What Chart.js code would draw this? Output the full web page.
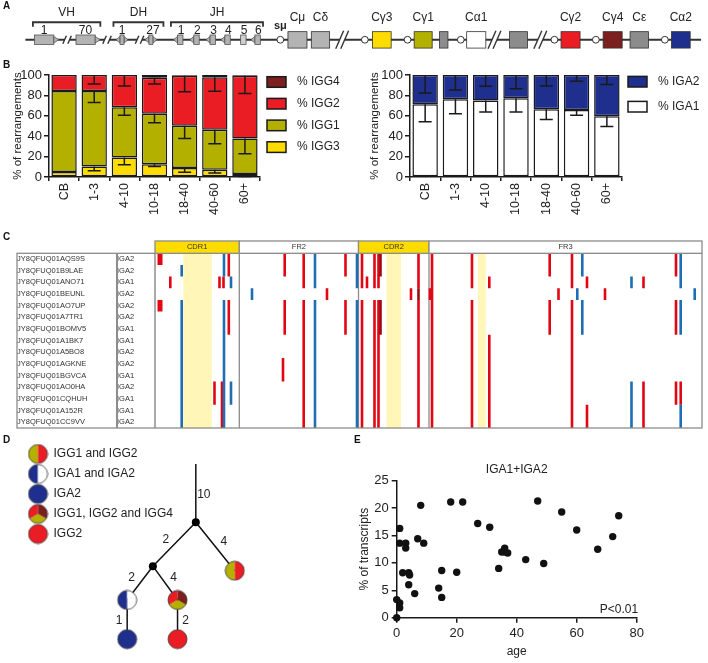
<!DOCTYPE html>
<html>
<head>
<meta charset="utf-8">
<script src="https://cdn.jsdelivr.net/npm/chart.js@4.4.1/dist/chart.umd.min.js"></script>
<style>
  body { margin: 0; background: #fff; }
  #fig { position: relative; width: 708px; height: 663px; overflow: hidden; font-family: Arial, 'Liberation Sans', sans-serif; }
  #fig canvas { position: absolute; }
  .tag { position: absolute; font-weight: bold; font-size: 10px; line-height: 10px; color: #111; }
</style>
</head>
<body>
<div id="fig">
  <canvas id="chartA" width="708" height="60" style="left:0;top:0"></canvas>
  <canvas id="chartB1" width="355" height="165" style="left:0;top:60px"></canvas>
  <canvas id="chartB2" width="353" height="165" style="left:355px;top:60px"></canvas>
  <canvas id="chartC" width="708" height="210" style="left:0;top:225px"></canvas>
  <canvas id="chartD" width="290" height="223" style="left:10px;top:440px"></canvas>
  <canvas id="chartE" width="408" height="233" style="left:300px;top:430px"></canvas>
  <div class="tag" style="left:3px;top:1px">A</div>
  <div class="tag" style="left:3px;top:60px">B</div>
  <div class="tag" style="left:3px;top:232px">C</div>
  <div class="tag" style="left:3px;top:435px">D</div>
  <div class="tag" style="left:354px;top:435px">E</div>
</div>
<script>
const FONT = "Arial, 'Liberation Sans', sans-serif";
Chart.defaults.font.family = FONT;
Chart.defaults.color = '#222';
Chart.defaults.animation = false;
Chart.defaults.responsive = false;
Chart.defaults.devicePixelRatio = 1;
Chart.defaults.plugins.legend.display = false;
Chart.defaults.plugins.tooltip.enabled = false;

const OLIVE = '#b3b000', RED = '#ea1c24', MAROON = '#7b1f1f', YELLOW = '#ffdc00', NAVY = '#1f2f8e';

// ---------- A: IGH locus ----------
const locusFrom = 20.7, locusTo = 706, locusY = 41.7;
const vGenes = [30, 72];
const vLabels = ['1', '70'];
const dGenes = [116.7, 146];
const dLabels = ['1', '27'];
const jGenes = [175, 191.5, 208, 223, 239, 253.5];
const jLabels = ['1', '2', '3', '4', '5', '6'];
const switchRegions = [279.3, 365, 408.3, 462.3, 557.3, 599.3, 669.3];
const constNames = ['Cμ', 'Cδ', 'Cγ3', 'Cγ1', '', 'Cα1', '', 'Cγ2', 'Cγ4', 'Cε', 'Cα2'];
const constStart = [287, 310.7, 372.7, 415, 440.7, 468.3, 511.7, 564, 606.7, 634, 676];
const constWidth = [19.3, 18.6, 19, 18.3, 8.6, 19.4, 18.3, 19.3, 19.3, 18.7, 19];
const constColor = ['#b3b3b3', '#b3b3b3', YELLOW, OLIVE, '#8c8c8c', '#ffffff', '#8c8c8c', RED, MAROON, '#8c8c8c', NAVY];
const locusBreaks = [63, 103.5, 136.5, 342, 496.5, 543];
const breakSize = [8, 8, 8, 18, 18, 18];
const groupNames = ['VH', 'DH', 'JH'];
const groupStart = [28.3, 110, 168.3];
const groupEnd = [96.7, 160.7, 261.7];

// ---------- B: isotype usage per age group ----------
const ageGroups = ['CB', '1-3', '4-10', '10-18', '18-40', '40-60', '60+'];
const igg3 = [5, 10.4, 19.2, 12.4, 8.8, 7.2, 2.9];
const igg1 = [79.4, 74, 49.2, 49.5, 41.4, 39.1, 34.9];
const igg2 = [15.6, 15.6, 31.6, 35.5, 49.1, 51.4, 61.5];
const igg4 = [0, 0, 0, 2.6, 0.7, 2.3, 0.7];
const igg3Sd = [0, 4.2, 7.2, 2, 4.2, 3.3, 2.5];
const igg1Sd = [0, 11.4, 7.8, 8.8, 12.4, 13.7, 15];
const igg2Sd = [0, 8.8, 10.7, 6.2, 15.6, 13.7, 17.5];
const igg4Sd = [0, 0, 0, 1.5, 0, 1, 0];
const iga1 = [71.3, 76.2, 74.9, 77.2, 66.4, 65.8, 59.6];
const iga2 = [28.7, 23.8, 25.1, 22.8, 33.6, 34.2, 40.4];
const iga1Sd = [17.2, 14.3, 11.1, 13.4, 10, 5.2, 10.1];
const iga2Sd = [17.6, 14.7, 11.1, 13.4, 10.7, 6.2, 9.4];

// ---------- C: mutations in IGA clone members ----------
const cloneIds = ['JY8QFUQ01AQS9S', 'JY8QFUQ01B9LAE', 'JY8QFUQ01ANO71', 'JY8QFUQ01BEUNL', 'JY8QFUQ01AO7UP',
  'JY8QFUQ01A7TR1', 'JY8QFUQ01BOMV5', 'JY8QFUQ01A1BK7', 'JY8QFUQ01A5BO8', 'JY8QFUQ01AGKNE',
  'JY8QFUQ01BGVCA', 'JY8QFUQ01AO0HA', 'JY8QFUQ01CQHUH', 'JY8QFUQ01A152R', 'JY8QFUQ01CC9VV'];
const cloneIsotypes = ['IGA2', 'IGA2', 'IGA1', 'IGA2', 'IGA2', 'IGA2', 'IGA1', 'IGA1', 'IGA2', 'IGA2',
  'IGA1', 'IGA2', 'IGA1', 'IGA1', 'IGA2'];
const regionNames = ['CDR1', 'FR2', 'CDR2', 'FR3'];
const regionStart = [0, 84.3, 203.5, 274];
const regionEnd = [84.3, 203.5, 274, 547];
const regionFill = [YELLOW, '#ffffff', YELLOW, '#ffffff'];
const hotspotStart = [28.3, 231.5, 323];
const hotspotEnd = [56.7, 246, 330.7];
// [position, kind, rows]   R red, B blue, D dark red, W broad red
const mutations = [
  [5, 'W', '0,4'], [15.3, 'R', '2'], [26.7, 'B', '1,4-14'], [59.5, 'R', '11-12'], [64.5, 'R', '2'],
  [67, 'R', '11-14'], [69, 'B', '0-1,4-14'], [68.5, 'R', '2'], [73.8, 'R', '0-1,4-6'], [76, 'B', '2,11-12'],
  [97, 'B', '3'], [128, 'R', '9-10'], [129.7, 'R', '0-1,4-6'], [148.7, 'R', '0-2,4-14'], [160, 'B', '0-2,4-14'],
  [172, 'R', '3'], [190.5, 'R', '0-1,4-6'], [202, 'B', '0-2,4-14'], [207, 'R', '0-2,4-14'], [212, 'R', '2'],
  [219.5, 'R', '0-2,4-14'], [223.5, 'R', '0-2,4-14'], [225.5, 'D', '0-1,4-6'], [256, 'R', '3'],
  [263.5, 'R', '0-2,4-14'], [263.5, 'D', '3'], [277, 'R', '0-14'], [275, 'R', '3'], [317, 'R', '0-2,4-14'],
  [334.3, 'R', '2,7-14'], [394.7, 'R', '0-1,4-6'], [403.5, 'R', '3'], [417, 'R', '0-2,4-14'], [422.3, 'B', '3'],
  [427.3, 'B', '0-1,4-6'], [432, 'R', '2,13-14'], [450, 'R', '3'], [476.5, 'B', '2,11-14'],
  [488.5, 'R', '2,11-14'], [521, 'R', '0-1,4-6,11-12'], [525.7, 'B', '0-2,4-6,13-14'], [525.7, 'R', '11-12'],
  [539.7, 'B', '3']
];

// ---------- D: clone lineage tree ----------
const cloneTypes = ['IGG1 and IGG2', 'IGA1 and IGA2', 'IGA2', 'IGG1, IGG2 and IGG4', 'IGG2'];
const nodeIds = ['top', 'n1', 'n2', 's1', 's2', 's3', 's4', 's5'];
const nodeX = [189, 189, 142.7, 231, 115, 169.3, 115, 169.3];
const nodeY = [15, 79.3, 127.7, 132.7, 165, 165, 208.3, 208.3];
const nodeType = [-2, -1, -1, 0, 1, 3, 2, 4];   // -1 branch point, -2 root stem
const branches = [['top', 'n1', '10', 1], ['n1', 'n2', '2', -1], ['n1', 's1', '4', 1], ['n2', 's2', '2', -1],
  ['n2', 's3', '4', 1], ['s2', 's4', '1', -1], ['s3', 's5', '2', 1]];

// ---------- E: IGA transcripts vs age ----------
const ageYears = [0, 0, 1, 1, 1, 1, 3, 3, 2, 4, 4.3, 4, 6, 7, 8, 9, 14, 15, 15, 18, 20, 22, 27, 31, 34, 35, 36, 36, 37, 43, 47, 49, 55, 60, 67, 72, 74];
const igaPct = [0, 3.3, 2.7, 1.8, 16.3, 13.6, 13.6, 12.7, 8.2, 8.2, 7.8, 6.0, 4.4, 14.4, 20.5, 13.6, 5.4, 8.6, 3.7, 21.1, 8.3, 21.1, 17.2, 16.5, 9.0, 12.0, 12.7, 12.0, 11.8, 10.6, 21.3, 9.9, 19.3, 16.0, 12.5, 14.8, 18.6];

// ================= panel A =================
const locusPlugin = {
  id: 'locus',
  beforeDatasetsDraw(chart) {
    const { ctx, scales: { x, y } } = chart;
    const px = v => x.getPixelForValue(v), py = v => y.getPixelForValue(v);
    const yc = py(locusY);
    ctx.save();
    ctx.strokeStyle = '#333';
    ctx.lineWidth = 2;
    ctx.beginPath(); ctx.moveTo(px(locusFrom), yc); ctx.lineTo(px(locusTo), yc); ctx.stroke();

    locusBreaks.forEach((b, i) => {
      const s = breakSize[i], w = s * 0.22;
      ctx.fillStyle = '#fff';
      ctx.fillRect(px(b) - 2.5, yc - 2, 5, 4);
      ctx.lineWidth = 1.4;
      [-2.5, 2.5].forEach(d => {
        ctx.beginPath(); ctx.moveTo(px(b) + d - w, yc + s / 2); ctx.lineTo(px(b) + d + w, yc - s / 2); ctx.stroke();
      });
    });

    const rect = (x0, x1, y0, y1, fill) => {
      ctx.fillStyle = fill;
      ctx.fillRect(px(x0), py(y0), px(x1) - px(x0), py(y1) - py(y0));
      ctx.strokeRect(px(x0), py(y0), px(x1) - px(x0), py(y1) - py(y0));
    };
    const rss = (base, apex) => {
      ctx.beginPath(); ctx.moveTo(px(base), yc - 3.3); ctx.lineTo(px(apex), yc); ctx.lineTo(px(base), yc + 3.3);
      ctx.closePath(); ctx.fillStyle = '#b3b3b3'; ctx.fill(); ctx.stroke();
    };
    ctx.strokeStyle = '#555';
    ctx.lineWidth = 0.8;
    vGenes.forEach(v => { rect(v, v + 19.5, 36, 47.3, '#b3b3b3'); rss(v + 19.5, v + 24.5); });
    dGenes.forEach(d => { rss(d, d - 4); rss(d + 4, d + 8); rect(d, d + 4, 36, 47.3, '#b3b3b3'); });
    jGenes.forEach((j, i) => {
      if (i !== 4) rss(j, j - 4);
      rect(j, j + 5.5, 36, 47.3, i === 4 ? '#cfcfcf' : '#b3b3b3');
    });
    ctx.strokeStyle = '#333';
    constStart.forEach((c, i) => rect(c, c + constWidth[i], 32, 51.7, constColor[i]));
    ctx.restore();
  },
  afterDraw(chart) {
    const { ctx, scales: { x, y } } = chart;
    const px = v => x.getPixelForValue(v), py = v => y.getPixelForValue(v);
    ctx.save();
    ctx.fillStyle = '#222';
    ctx.textAlign = 'center';
    ctx.textBaseline = 'middle';
    ctx.font = '12px ' + FONT;
    ctx.strokeStyle = '#333';
    ctx.lineWidth = 1.8;
    groupNames.forEach((g, i) => {
      ctx.beginPath();
      ctx.moveTo(px(groupStart[i]), py(26)); ctx.lineTo(px(groupStart[i]), py(20.7));
      ctx.lineTo(px(groupEnd[i]), py(20.7)); ctx.lineTo(px(groupEnd[i]), py(26));
      ctx.stroke();
      ctx.fillText(g, px((groupStart[i] + groupEnd[i]) / 2), py(9.5));
    });
    vGenes.forEach((v, i) => ctx.fillText(vLabels[i], px(v + 9.7), py(30.5)));
    dGenes.forEach((d, i) => ctx.fillText(dLabels[i], px(d + 2 + (i ? 2 : 0)), py(30.5)));
    jGenes.forEach((j, i) => ctx.fillText(jLabels[i], px(j + 3.5), py(30.5)));
    constStart.forEach((c, i) => { if (constNames[i]) ctx.fillText(constNames[i], px(c + constWidth[i] / 2), py(15)); });
    ctx.font = 'bold 11px ' + FONT;
    ctx.fillText('sμ', px(switchRegions[0]), py(25.5));
    ctx.restore();
  }
};

new Chart(document.getElementById('chartA'), {
  type: 'scatter',
  data: {
    datasets: [{
      data: switchRegions.map(s => ({ x: s, y: locusY })),
      pointRadius: 3.4, pointBackgroundColor: '#fff', pointBorderColor: '#333', pointBorderWidth: 1
    }]
  },
  options: {
    scales: {
      x: { display: false, min: 0, max: 708 },
      y: { display: false, min: 0, max: 60, reverse: true }
    }
  },
  plugins: [locusPlugin]
});

// ================= panel B =================
const errorBars = {
  id: 'errorBars',
  afterDatasetsDraw(chart) {
    const { ctx, scales: { y } } = chart;
    const totals = chart.data.labels.map(() => 0);
    ctx.save();
    ctx.strokeStyle = '#1a1a1a';
    ctx.lineWidth = 1.5;
    chart.data.datasets.forEach((ds, i) => {
      const meta = chart.getDatasetMeta(i);
      ds.data.forEach((v, j) => {
        totals[j] += v;
        const sd = ds.errors[j];
        if (!sd) return;
        const xc = meta.data[j].x, y0 = y.getPixelForValue(totals[j]), y1 = y.getPixelForValue(totals[j] - sd);
        ctx.beginPath();
        ctx.moveTo(xc, y0); ctx.lineTo(xc, y1);
        ctx.moveTo(xc - 6.5, y1); ctx.lineTo(xc + 6.5, y1);
        ctx.stroke();
      });
    });
    ctx.restore();
  }
};

const sideLegend = {
  id: 'sideLegend',
  afterDraw(chart, args, opts) {
    const { ctx, chartArea } = chart;
    const x = chartArea.right + opts.gap;
    ctx.save();
    ctx.font = '12px ' + FONT;
    ctx.textBaseline = 'middle';
    chart.data.datasets.slice().reverse().forEach((ds, i) => {
      const cy = opts.top + i * opts.step;
      ctx.fillStyle = ds.backgroundColor;
      ctx.fillRect(x, cy - 5.3, 19, 10.6);
      ctx.strokeStyle = '#1a1a1a';
      ctx.lineWidth = 1.5;
      ctx.strokeRect(x, cy - 5.3, 19, 10.6);
      ctx.fillStyle = '#222';
      ctx.fillText(ds.label, x + 30, cy);
    });
    ctx.restore();
  }
};

function rearrangementChart(id, datasets, padding, axisWidth, legendOpts) {
  const axisLine = { color: '#1a1a1a', width: 1.5 };
  const tickMarks = { drawOnChartArea: false, color: '#1a1a1a', lineWidth: 1.5 };
  return new Chart(document.getElementById(id), {
    type: 'bar',
    data: { labels: ageGroups, datasets },
    options: {
      layout: { padding },
      datasets: { bar: { categoryPercentage: 1, barPercentage: 0.84, borderColor: '#1a1a1a', borderWidth: 1.5, borderSkipped: false } },
      scales: {
        x: {
          stacked: true,
          grid: { ...tickMarks, tickLength: 4 },
          border: axisLine,
          ticks: { minRotation: 90, maxRotation: 90, font: { size: 12.5 }, padding: 2 },
          afterFit: s => { s.height = 48; }
        },
        y: {
          stacked: true, min: 0, max: 100,
          ticks: { stepSize: 20, font: { size: 13 }, padding: 2 },
          grid: { ...tickMarks, tickLength: 5 },
          border: axisLine,
          title: { display: true, text: '% of rearrangements', font: { size: 11.5 }, padding: 4 },
          afterFit: s => { s.width = axisWidth; }
        }
      },
      plugins: { sideLegend: legendOpts }
    },
    plugins: [errorBars, sideLegend]
  });
}

rearrangementChart('chartB1', [
  { label: '% IGG3', data: igg3, errors: igg3Sd, backgroundColor: YELLOW },
  { label: '% IGG1', data: igg1, errors: igg1Sd, backgroundColor: OLIVE },
  { label: '% IGG2', data: igg2, errors: igg2Sd, backgroundColor: RED },
  { label: '% IGG4', data: igg4, errors: igg4Sd, backgroundColor: MAROON }
], { left: 6.7, top: 15, right: 95, bottom: 0 }, 42.3, { gap: 7, top: 22, step: 21.7 });

rearrangementChart('chartB2', [
  { label: '% IGA1', data: iga1, errors: iga1Sd, backgroundColor: '#ffffff' },
  { label: '% IGA2', data: iga2, errors: iga2Sd, backgroundColor: NAVY }
], { left: 9.4, top: 15, right: 86, bottom: 0 }, 45.6, { gap: 6, top: 21.7, step: 25 });

// ================= panel C =================
const MUT_COLORS = { R: '#e20613', B: '#1f6db3', D: '#9a0b12', W: '#e20613' };
function rowRuns(spec) {
  return spec.split(',').map(s => {
    const [a, b] = s.split('-').map(Number);
    return [a, b === undefined ? a : b];
  });
}
function mutationSeries(kind) {
  const pts = [];
  mutations.filter(m => m[1] === kind).forEach(([pos, , rows]) => {
    rowRuns(rows).forEach(([a, b]) => {
      pts.push({ x: pos, y: a - 0.5 }, { x: pos, y: b + 0.5 }, { x: pos, y: null });
    });
  });
  return pts;
}

const cloneFrame = {
  id: 'cloneFrame',
  beforeDatasetsDraw(chart) {
    const { ctx, chartArea: a, scales: { x } } = chart;
    ctx.save();
    ctx.fillStyle = '#fff6b8';
    hotspotStart.forEach((s, i) => {
      ctx.fillRect(x.getPixelForValue(s), a.top, x.getPixelForValue(hotspotEnd[i]) - x.getPixelForValue(s), a.bottom - a.top);
    });
    ctx.strokeStyle = '#8c8c8c';
    ctx.lineWidth = 1.3;
    regionStart.slice(1).forEach(s => {
      ctx.beginPath(); ctx.moveTo(x.getPixelForValue(s), a.top); ctx.lineTo(x.getPixelForValue(s), a.bottom); ctx.stroke();
    });
    ctx.restore();
  },
  afterDraw(chart, args, opts) {
    const { ctx, chartArea: a, scales: { x } } = chart;
    ctx.save();
    ctx.strokeStyle = '#8c8c8c';
    ctx.lineWidth = 1.3;
    ctx.strokeRect(opts.tableLeft, a.top, a.right - opts.tableLeft, a.bottom - a.top);
    ctx.lineWidth = 2;
    ctx.beginPath(); ctx.moveTo(opts.nameRight, a.top); ctx.lineTo(opts.nameRight, a.bottom); ctx.stroke();
    ctx.lineWidth = 1.5;
    ctx.beginPath(); ctx.moveTo(a.left, a.top); ctx.lineTo(a.left, a.bottom); ctx.stroke();
    ctx.font = '7.5px ' + FONT;
    ctx.textAlign = 'center';
    ctx.textBaseline = 'middle';
    ctx.lineWidth = 1.3;
    regionNames.forEach((r, i) => {
      const x0 = x.getPixelForValue(regionStart[i]), x1 = x.getPixelForValue(regionEnd[i]);
      ctx.fillStyle = regionFill[i];
      ctx.fillRect(x0, a.top - opts.header, x1 - x0, opts.header);
      ctx.strokeRect(x0, a.top - opts.header, x1 - x0, opts.header);
      ctx.fillStyle = '#333';
      ctx.fillText(r, (x0 + x1) / 2, a.top - opts.header / 2);
    });
    ctx.restore();
  }
};

const mutLine = kind => ({
  type: 'scatter', data: mutationSeries(kind), showLine: true, spanGaps: false, pointRadius: 0,
  borderColor: MUT_COLORS[kind], borderWidth: kind === 'W' ? 5 : 2.6, borderCapStyle: 'butt', clip: false
});

new Chart(document.getElementById('chartC'), {
  type: 'scatter',
  data: { datasets: ['D', 'B', 'R', 'W'].map(mutLine) },
  options: {
    layout: { padding: { left: 17, right: 6, top: 28.3, bottom: 7 } },
    scales: {
      x: { display: false, min: 0, max: 547 },
      y: { display: false, min: -0.5, max: 14.5, reverse: true },
      yIso: {
        type: 'category', position: 'left', labels: cloneIsotypes, offset: true, weight: 1,
        grid: { display: false }, border: { display: false },
        ticks: { crossAlign: 'far', font: { size: 7.5 }, color: '#333', autoSkip: false, padding: 0 },
        afterFit: s => { s.width = 38; }
      },
      yName: {
        type: 'category', position: 'left', labels: cloneIds, offset: true, weight: 2,
        grid: { display: false }, border: { display: false },
        ticks: { crossAlign: 'far', font: { size: 7.5 }, color: '#333', autoSkip: false, padding: 0 },
        afterFit: s => { s.width = 100; }
      }
    },
    plugins: { cloneFrame: { tableLeft: 17, nameRight: 117, header: 12.3 } }
  },
  plugins: [cloneFrame]
});

// ================= panel D =================
function pieImage(slices) {
  const c = document.createElement('canvas');
  c.width = c.height = 21;
  const g = c.getContext('2d');
  slices.forEach(([a0, a1, col]) => {
    g.beginPath(); g.moveTo(10.5, 10.5);
    g.arc(10.5, 10.5, 9.5, a0 * Math.PI / 180, a1 * Math.PI / 180);
    g.closePath(); g.fillStyle = col; g.fill();
  });
  g.beginPath(); g.arc(10.5, 10.5, 9.5, 0, 2 * Math.PI);
  g.strokeStyle = '#3a3a3a'; g.lineWidth = 0.8; g.stroke();
  return c;
}
const typeIcons = [
  pieImage([[90, 270, OLIVE], [270, 450, RED]]),
  pieImage([[90, 270, NAVY], [270, 450, '#ffffff']]),
  pieImage([[0, 360, NAVY]]),
  pieImage([[150, 270, RED], [270, 390, MAROON], [30, 150, OLIVE]]),
  pieImage([[0, 360, RED]])
];

const nodeAt = id => nodeIds.indexOf(id);
const branchPoints = [];
branches.forEach(([from, to]) => {
  branchPoints.push({ x: nodeX[nodeAt(from)], y: nodeY[nodeAt(from)] },
    { x: nodeX[nodeAt(to)], y: nodeY[nodeAt(to)] }, { x: nodeX[nodeAt(to)], y: null });
});

const branchLabels = {
  id: 'branchLabels',
  afterDatasetsDraw(chart) {
    const { ctx, scales: { x, y } } = chart;
    ctx.save();
    ctx.font = '12px ' + FONT;
    ctx.fillStyle = '#222';
    ctx.textAlign = 'center';
    ctx.textBaseline = 'middle';
    branches.forEach(([from, to, len, side]) => {
      const i = nodeAt(from), j = nodeAt(to);
      const mx = (x.getPixelForValue(nodeX[i]) + x.getPixelForValue(nodeX[j])) / 2;
      const my = (y.getPixelForValue(nodeY[i]) + y.getPixelForValue(nodeY[j])) / 2;
      const diagonal = nodeX[i] !== nodeX[j];
      ctx.fillText(len, mx + side * (diagonal ? 8.5 : 8), my + (diagonal ? -5 : 1));
    });
    ctx.restore();
  }
};

new Chart(document.getElementById('chartD'), {
  type: 'scatter',
  data: {
    datasets: [
      ...cloneTypes.map((t, k) => ({
        label: t,
        data: nodeIds.map((id, i) => ({ x: nodeX[i], y: nodeY[i] })).filter((p, i) => nodeType[i] === k),
        pointStyle: typeIcons[k], pointRadius: 9.5
      })),
      {
        label: '',
        data: nodeIds.map((id, i) => ({ x: nodeX[i], y: nodeY[i] })).filter((p, i) => nodeType[i] === -1),
        pointRadius: 4, pointBackgroundColor: '#000', pointBorderWidth: 0
      },
      {
        label: '', data: branchPoints, showLine: true, spanGaps: false, pointRadius: 0,
        borderColor: '#111', borderWidth: 1.5
      }
    ]
  },
  options: {
    scales: {
      x: { display: false, min: 0, max: 290 },
      y: { display: false, min: 0, max: 223, reverse: true }
    },
    plugins: {
      legend: {
        display: true, position: 'chartArea', align: 'start',
        labels: {
          usePointStyle: true, pointStyleWidth: 19, padding: 8, color: '#222', font: { size: 12 },
          filter: item => !!item.text
        }
      }
    }
  },
  plugins: [branchLabels]
});

// ================= panel E =================
const plotNotes = {
  id: 'plotNotes',
  afterDraw(chart, args, opts) {
    const { ctx, chartArea: a } = chart;
    ctx.save();
    ctx.font = '12px ' + FONT;
    ctx.fillStyle = '#222';
    ctx.textBaseline = 'middle';
    ctx.textAlign = 'center';
    ctx.fillText(opts.title, (a.left + a.right) / 2, a.top - 10.7);
    ctx.textAlign = 'right';
    ctx.fillText(opts.note, a.right + 1.5, a.bottom - 7.7);
    ctx.restore();
  }
};

new Chart(document.getElementById('chartE'), {
  type: 'scatter',
  data: {
    datasets: [{
      data: ageYears.map((a, i) => ({ x: a, y: igaPct[i] })),
      pointRadius: 3.7, pointBackgroundColor: '#111', pointBorderWidth: 0, clip: false
    }]
  },
  options: {
    layout: { padding: { left: 53.8, right: 71.3, top: 50.7, bottom: 0 } },
    scales: {
      x: {
        min: 0, max: 80,
        ticks: { stepSize: 20, font: { size: 13 }, padding: 3 },
        grid: { drawOnChartArea: false, tickLength: 5, color: '#1a1a1a', lineWidth: 1.5 },
        border: { color: '#1a1a1a', width: 1.5 },
        title: { display: true, text: 'age', font: { size: 12 }, padding: 4 },
        afterFit: s => { s.height = 45.3; }
      },
      y: {
        min: 0, max: 25,
        ticks: { stepSize: 5, font: { size: 13 }, padding: 3 },
        grid: { drawOnChartArea: false, tickLength: 5, color: '#1a1a1a', lineWidth: 1.5 },
        border: { color: '#1a1a1a', width: 1.5 },
        title: { display: true, text: '% of transcripts', font: { size: 12 }, padding: 4 },
        afterFit: s => { s.width = 42.9; }
      }
    },
    plugins: { plotNotes: { title: 'IGA1+IGA2', note: 'P<0.01' } }
  },
  plugins: [plotNotes]
});
</script>
</body>
</html>
